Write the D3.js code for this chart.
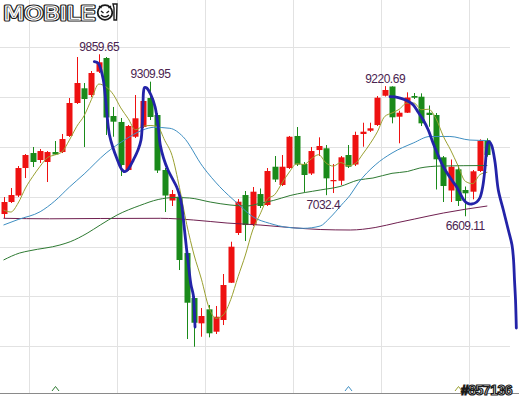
<!DOCTYPE html>
<html>
<head>
<meta charset="utf-8">
<script src="https://cdn.jsdelivr.net/npm/d3@7"></script>
<style>
  body { margin: 0; background: #fff; }
  svg { display: block; }
</style>
</head>
<body>
<svg id="chart" width="519" height="398"></svg>
<script>
// daily candles (index = trading day)
var opens = [6654,6895,7025,7577,7878,7738,7698,7898,7898,8220,
  8882,9177,9042,9510,9785,8621,8501,7537,8205,8400,
  8982,8641,7537,6925,7001,5871,4968,4460,4741,4292,
  4527,5275,6273,7035,6433,7055,6835,7603,7236,7577,
  8220,7657,7467,7938,7973,7316,7322,7838,7647,8260,
  8326,8440,9028,9213,8607,8687,9022,9008,8687,8641,
  7792,7126,7551,7136,7102,7517,8133];
var highs = [6995,7176,7617,7858,7999,7959,7918,8119,8260,8982,
  9805,9283,9524,9859.65,9805,8802,8581,8440,9042,8962,
  9309.95,8681,7577,7136,7035,5931,5008,4767,4828,4808,
  5450,6098,6955,7116,7196,7166,7577,7818,7838,8220,
  8400,7698,7999,8193,8039,7657,7818,8039,8306,8486,
  8486,9022,9220.69,9217,8727,9096,9082,9076,8832,8681,
  7818,7748,7637,7206,7537,8153,8173];
var lows = [6574,6875,6995,7376,7597,7678,7296,7838,7878,8200,
  8862,7999,9002,9484,8240,8205,7417,7517,8179,8380,
  8541,7477,6694,6815,5530,4145,3991,4191,4179,4246,
  4426,5269,6233,6112,6413,6774,6815,7296,7216,7557,
  7617,7096,7437,7818,7032.4,7075,7236,7577,7617,8005,
  8300,8420,9012,8474,8073,8681,8962,8420,8406,7146,
  6895,6895,6815,6609.11,6949,7497,7804];
var closes = [6895,7035,7577,7838,7698,7918,7898,7848,8159,8882,
  9283,8962,9484,9699,8591,8507,7637,8420,8575,8922,
  8601,7527,7025,7055,5731,4874,4472,4607,4260,4593,
  5229,5998,6901,6433,7102,6815,7517,7346,7603,8205,
  7647,7437,7918,8019,7370,7336,7792,7603,8240,8306,
  8374,8988,9143,8595,8687,8992,8988,8474,8641,7752,
  7216,7603,6915,7070,7511,8125,7838];

// first 4 values of the short average (history not on screen)
var ma5Head = [6734, 6694, 6875, 7176];

// slower averages, read at [day, price]
var ma20 = [[0,6433],[2,6544],[5,6700],[7,6915],[9,7196],[11,7457],[14,7878],
  [16.5,8139],[19,8340],[20.5,8394],[22.7,8374],[24.5,8205],[27.2,7603],[29.5,7202],
  [31.9,6869],[34,6600],[36.3,6467],[38.7,6387],[40.9,6367],[43.2,6413],[44.5,6574],
  [46.1,6835],[47.3,7035],[48.4,7276],[50.7,7637],[53,7878],[55.9,8079],[58.2,8210],
  [60.9,8210],[63.6,8139],[66,8129]];
var ma60 = [[0,5731],[2.2,5871],[3.6,5918],[7.7,6032],[9.1,6098],[11.4,6267],[13.2,6433],
  [15.5,6634],[18.6,6825],[21.1,6945],[23.4,6985],[25.4,6975],[28.2,6895],[30.9,6835],
  [33.2,6815],[35,6869],[36.8,6925],[39.1,7025],[43.2,7136],[45.9,7206],[48.4,7336],
  [50.4,7376],[53,7471],[55.1,7507],[56.8,7577],[59.6,7617],[66,7627]];
var ma120 = [[0,6568],[6.3,6558],[13.2,6564],[21.4,6568],[25.9,6534],[30.5,6473],
  [35,6433],[39.1,6383],[43.2,6343],[47.3,6333],[50.7,6383],[53.8,6483],[56.1,6554],
  [60,6674],[66,6815]];

// hand drawn pen strokes, [day, price]
var penA = [[12.39,9711],[12.93,9679],[13.3,9544],[13.62,9343],[13.94,8942],[14.19,8541],
  [14.46,8240],[14.9,7999],[15.44,7778],[16.13,7547],[16.58,7503],[17.03,7557],[17.71,7738],
  [18.35,7939],[18.76,8139],[18.94,8480],[19.03,8842],[19.1,9103],[19.24,9193],[19.54,9183],
  [20.12,9042],[20.67,8808],[21.08,8440],[21.39,8039],[21.83,7778],[22.44,7537],[23.06,7357],
  [23.63,7196],[24.01,7035],[24.31,6835],[24.62,6433],[24.99,5931],[25.31,5530],[25.58,5229],
  [25.89,5028],[26.03,4727],[26.13,4386]];
var penB = [[52.73,9008],[53.86,8992],[55.01,8932],[55.91,8842],[56.55,8701],[57.27,8541],
  [57.95,8340],[58.6,8079],[59.28,7838],[60,7603],[61.15,7336],[61.83,7196],[62.28,7070],
  [62.73,6949],[63.23,6875],[63.87,6855],[64.56,6895],[65.01,6985],[65.37,7196],[65.69,7577],
  [65.92,7979],[66.1,8099],[66.28,8105],[66.6,8029],[67.05,7698],[67.5,7136],[68.19,6734],
  [68.87,6333],[69.37,6032],[69.58,5731],[69.71,5330],[69.85,4928],[69.96,4366]];

var peakLabels = [
  {i: 13, v: 9859.65, side: "high"},
  {i: 20, v: 9309.95, side: "high"},
  {i: 52, v: 9220.69, side: "high"},
  {i: 44, v: 7032.4, side: "low"},
  {i: 63, v: 6609.11, side: "low"}
];
var crossMarks = [{i: 7, line: "ma60"}, {i: 47, line: "ma20"}, {i: 62, line: "ma5"}];
var gridPrices = [4000, 5000, 6000, 7000, 8000, 9000, 10000];
var gridDays = [3.5, 15.5, 27.5, 39.5, 51.5, 63.5];

var colors = {up: "#ee1111", down: "#1a8a1a", ma5: "#9aa030", ma20: "#3f8fc2",
  ma60: "#2e7a32", ma120: "#702050", pen: "#2323a8", grid: "#e2e2e2", label: "#4a2350"};

var svg = d3.select("#chart");
var x = d3.scaleLinear().domain([0, 66]).range([3.5, 487.3]);
var y = d3.scaleLinear().domain([3062, 10949]).range([393, 0]);

// grid
svg.append("g").selectAll("line").data(gridPrices).enter().append("line")
  .attr("x1", 0).attr("x2", 510)
  .attr("y1", function(d) { return Math.round(y(d)) + 0.5; })
  .attr("y2", function(d) { return Math.round(y(d)) + 0.5; })
  .attr("stroke", colors.grid);
svg.append("g").selectAll("line").data(gridDays).enter().append("line")
  .attr("x1", function(d) { return Math.round(x(d)) + 0.5; })
  .attr("x2", function(d) { return Math.round(x(d)) + 0.5; })
  .attr("y1", 0).attr("y2", 393)
  .attr("stroke", colors.grid);

// bottom axis line
svg.append("line").attr("x1", 0).attr("x2", 519).attr("y1", 393.5).attr("y2", 393.5)
  .attr("stroke", "#8a8a8a");

// candles
var days = d3.range(opens.length);
var candles = svg.append("g").selectAll("g").data(days).enter().append("g");
candles.append("line")
  .attr("x1", function(i) { return Math.round(x(i)) + 0.5; })
  .attr("x2", function(i) { return Math.round(x(i)) + 0.5; })
  .attr("y1", function(i) { return y(highs[i]); })
  .attr("y2", function(i) { return y(lows[i]); })
  .attr("stroke", function(i) { return closes[i] >= opens[i] ? colors.up : colors.down; });
candles.append("rect")
  .attr("x", function(i) { return Math.round(x(i)) - 2.5; })
  .attr("width", 6)
  .attr("y", function(i) { return y(Math.max(opens[i], closes[i])); })
  .attr("height", function(i) { return Math.max(1.2, Math.abs(y(opens[i]) - y(closes[i]))); })
  .attr("fill", function(i) { return closes[i] >= opens[i] ? colors.up : colors.down; });

// moving averages
var ma5 = days.map(function(i) {
  if (i < 4) return [i, ma5Head[i]];
  return [i, d3.mean(closes.slice(i - 4, i + 1))];
});
var line = d3.line()
  .x(function(d) { return x(d[0]); })
  .y(function(d) { return y(d[1]); })
  .curve(d3.curveMonotoneX);
[["ma120", ma120], ["ma60", ma60], ["ma20", ma20], ["ma5", ma5]].forEach(function(s) {
  svg.append("path").datum(s[1])
    .attr("d", line)
    .attr("fill", "none")
    .attr("stroke", colors[s[0]])
    .attr("stroke-width", 1);
});

// little crossing marks at the bottom
svg.append("g").selectAll("path").data(crossMarks).enter().append("path")
  .attr("d", function(d) {
    var cx = Math.round(x(d.i)) + 0.5;
    return "M" + (cx - 3.5) + ",391 L" + cx + ",386.5 L" + (cx + 3.5) + ",391";
  })
  .attr("fill", "none")
  .attr("stroke", function(d) { return colors[d.line]; });

// pen strokes
var pen = d3.line()
  .x(function(d) { return x(d[0]); })
  .y(function(d) { return y(d[1]); })
  .curve(d3.curveCatmullRom.alpha(0.5));
[penA, penB].forEach(function(p) {
  svg.append("path").datum(p)
    .attr("d", pen)
    .attr("fill", "none")
    .attr("stroke", colors.pen)
    .attr("stroke-width", 2.8)
    .attr("stroke-linecap", "round")
    .attr("stroke-linejoin", "round");
});

// peak / trough labels
svg.append("g").selectAll("text").data(peakLabels).enter().append("text")
  .attr("x", function(d) { return x(d.i) - 19.5; })
  .attr("y", function(d) { return d.side == "high" ? y(d.v) - 3.5 : y(d.v) + 13.5; })
  .attr("font-family", "'Liberation Sans', Arial, sans-serif")
  .attr("font-size", 12)
  .attr("letter-spacing", -0.5)
  .attr("fill", colors.label)
  .text(function(d) { return d.v; });

// logo (outlined letters: dark wide stroke, white thin stroke on top)
var logo = svg.append("g");
[["#1a1a1a", 3.2], ["#fff", 1.1]].forEach(function(s) {
  logo.append("text")
    .attr("x", 3.5).attr("y", 19.5)
    .attr("font-family", "'DejaVu Sans', sans-serif")
    .attr("font-size", 19)
    .attr("textLength", 92)
    .attr("lengthAdjust", "spacingAndGlyphs")
    .attr("fill", "none")
    .attr("stroke", s[0])
    .attr("stroke-width", s[1])
    .attr("stroke-linejoin", "round")
    .text("MOBILE");
});
logo.append("circle").attr("cx", 105).attr("cy", 12.5).attr("r", 7.3)
  .attr("fill", "#fff").attr("stroke", "#1a1a1a").attr("stroke-width", 1.8);
logo.append("path").attr("d", "M101,11 L103.5,13 M109,11 L106.5,13 M101,15 Q105,19 109,15")
  .attr("fill", "none").attr("stroke", "#1a1a1a").attr("stroke-width", 1.4);
logo.append("path").attr("d", "M99,6 L101.5,8 M111,6 L108.5,8")
  .attr("fill", "none").attr("stroke", "#1a1a1a").attr("stroke-width", 1.4);
logo.append("path").attr("d", "M113,4 L117,4 L116.5,20 L114,20 L114,8 Z")
  .attr("fill", "#fff").attr("stroke", "#1a1a1a").attr("stroke-width", 1.4);

// post number watermark
svg.append("text")
  .attr("x", 461).attr("y", 394.5)
  .attr("font-family", "'Liberation Sans', Arial, sans-serif")
  .attr("font-weight", "bold")
  .attr("font-size", 14)
  .attr("letter-spacing", -0.5)
  .attr("fill", "#fff")
  .attr("stroke", "#1a1a1a")
  .attr("stroke-width", 1.2)
  .text("#857136");
</script>
</body>
</html>
